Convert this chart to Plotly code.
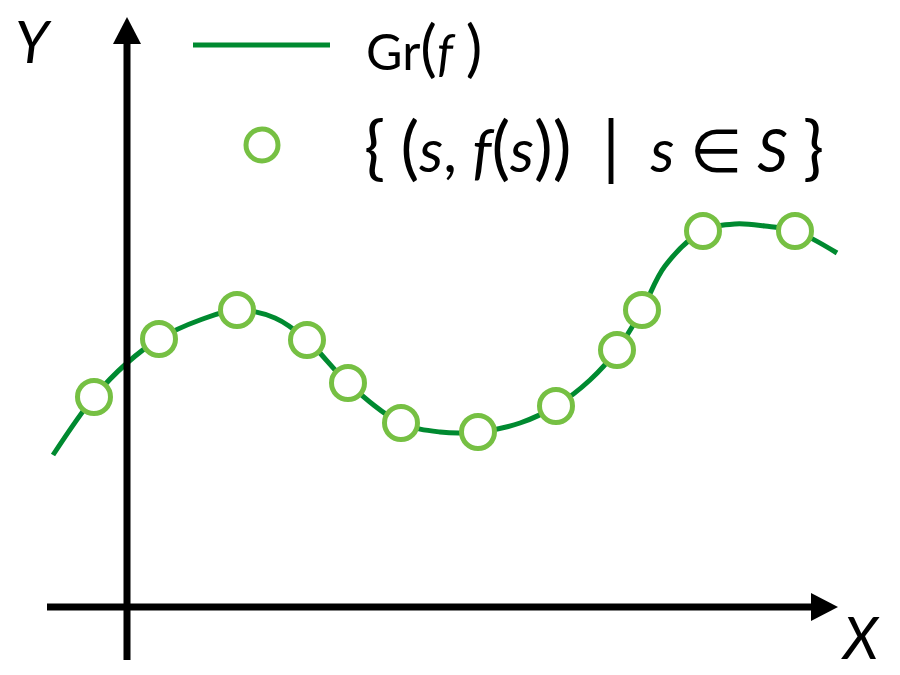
import plotly.graph_objects as go

# Curve Gr(f) knots (pixel-space coordinates)
curve_x = [53, 94, 127, 159, 200, 237, 275, 307, 348, 401, 440, 478, 520, 556, 590, 617, 642, 665, 703, 735, 765, 795, 837]
curve_y = [455, 397, 363, 339, 320, 310, 318, 340, 383, 423, 432, 432, 423, 406, 380, 350, 310, 266, 231, 224, 226, 231, 253]

# Sample points {(s, f(s)) | s in S}
sample_x = [94, 159, 237, 307, 348, 401, 478, 556, 617, 642, 703, 795]
sample_y = [397, 339, 310, 340, 383, 423, 432, 406, 350, 310, 231, 231]

# Axes geometry (origin / extents)
x_axis_y = 607
y_axis_x = 127
x_axis_start, x_axis_end = 47, 838
y_axis_bottom, y_axis_top = 660, 17

BIG = "<span style='font-size:70px'>{}</span>"
BIG1 = "<span style='font-size:62px'>{}</span>"
legend_labels = [
    "Gr" + BIG1.format("(") + "<i>f</i> " + BIG1.format(")"),
    BIG.format("{") + " " + BIG.format("(") + "<i>s</i>, <i>f</i>" + BIG.format("(") + "<i>s</i>"
    + BIG.format("))") + "  " + BIG.format("|") + "  <i>s</i> ∈ <i>S</i> " + BIG.format("}"),
]

DARK = "#008A30"
LIGHT = "#76C043"
FONT = "Lato"

fig = go.Figure()
fig.add_trace(go.Scatter(x=curve_x, y=curve_y, mode="lines",
                         line=dict(color=DARK, width=5, shape="spline", smoothing=1.0),
                         showlegend=False, hoverinfo="skip"))
fig.add_trace(go.Scatter(x=sample_x, y=sample_y, mode="markers",
                         marker=dict(size=33, color="white", line=dict(color=LIGHT, width=5)),
                         showlegend=False, hoverinfo="skip"))

shapes = []
# axes lines
shapes.append(dict(type="line", x0=x_axis_start, x1=x_axis_end - 20, y0=x_axis_y, y1=x_axis_y,
                   line=dict(color="black", width=7)))
shapes.append(dict(type="line", x0=y_axis_x, x1=y_axis_x, y0=y_axis_bottom, y1=y_axis_top + 20,
                   line=dict(color="black", width=7)))
# arrow heads
shapes.append(dict(type="path",
                   path=f"M {x_axis_end} {x_axis_y} L {x_axis_end-27} {x_axis_y-14} L {x_axis_end-27} {x_axis_y+14} Z",
                   fillcolor="black", line=dict(width=0)))
shapes.append(dict(type="path",
                   path=f"M {y_axis_x} {y_axis_top} L {y_axis_x-14} {y_axis_top+27} L {y_axis_x+14} {y_axis_top+27} Z",
                   fillcolor="black", line=dict(width=0)))
# legend samples
shapes.append(dict(type="line", x0=193, x1=330, y0=45, y1=45, line=dict(color=DARK, width=5)))
shapes.append(dict(type="circle", x0=262-16, x1=262+16, y0=145-16, y1=145+16,
                   line=dict(color=LIGHT, width=5), fillcolor="white"))

annotations = [
    dict(x=33, y=40, text="<i>Y</i>", showarrow=False, font=dict(size=58, family=FONT, color="black")),
    dict(x=860, y=636, text="<i>X</i>", showarrow=False, font=dict(size=58, family=FONT, color="black")),
    dict(x=364, y=46, text=legend_labels[0], showarrow=False, xanchor="left",
         font=dict(size=50, family=FONT, color="black")),
    dict(x=362, y=145, text=legend_labels[1], showarrow=False, xanchor="left",
         font=dict(size=60, family=FONT, color="black")),
]

fig.update_layout(
    width=900, height=675,
    margin=dict(l=0, r=0, t=0, b=0),
    paper_bgcolor="white", plot_bgcolor="white",
    xaxis=dict(range=[0, 900], visible=False, fixedrange=True),
    yaxis=dict(range=[675, 0], visible=False, fixedrange=True),
    shapes=shapes, annotations=annotations,
)
fig.write_html("out.html", config={"displayModeBar": False},
               post_script="document.body.style.margin='0';document.body.style.overflow='hidden';")
